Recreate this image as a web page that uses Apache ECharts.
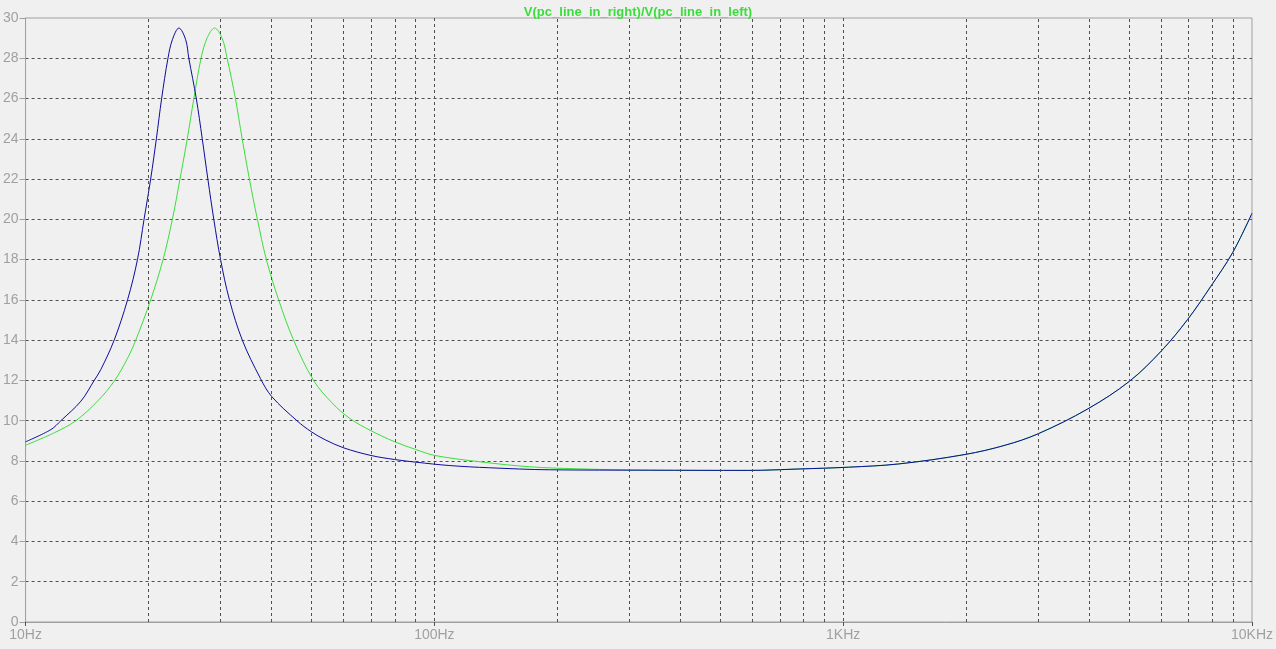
<!DOCTYPE html>
<html>
<head>
<meta charset="utf-8">
<script src="https://cdn.jsdelivr.net/npm/echarts@6/dist/echarts.min.js"></script>
<style>
html,body{margin:0;padding:0;background:#f0f0f0;}
#chart{width:1276px;height:649px;}
</style>
</head>
<body>
<div id="chart"></div>
<script>
const titleText = 'V(pc_line_in_right)/V(pc_line_in_left)';

const freqBlue = [10, 11.54, 12.2, 13.66, 14.72, 15.28, 16.47, 17.76, 18.78, 19.49, 20.23, 20.89, 21.52, 22.30, 22.86, 23.72, 24.64, 25.08, 26.16, 27.05, 27.92, 28.87, 29.99, 31.53, 33.9, 37.53, 40.0, 46.1, 50.0, 54.07, 60.0, 70.0, 80.0, 90.0, 109.1, 136.6, 191.3, 335.5, 588, 779, 1031, 1366, 1986, 2489, 2999, 3970, 5017, 5993, 6962, 7934, 8964, 10000];
const valBlue = [8.95, 9.56, 10.0, 10.97, 12.0, 12.54, 14.0, 16.0, 18.0, 20.0, 22.0, 24.0, 26.0, 28.0, 28.92, 29.5, 28.92, 28.0, 26.0, 24.0, 22.0, 20.0, 18.0, 16.0, 14.0, 12.1, 11.2, 10.0, 9.45, 9.05, 8.65, 8.27, 8.07, 7.94, 7.77, 7.66, 7.56, 7.54, 7.53, 7.6, 7.69, 7.85, 8.32, 8.78, 9.35, 10.59, 11.96, 13.45, 15.03, 16.68, 18.34, 20.3];

const freqGreen = [10, 11.76, 13.28, 15.0, 16.47, 17.76, 18.6, 20.23, 21.69, 22.86, 23.86, 24.86, 25.80, 26.87, 27.82, 28.99, 30.27, 31.12, 32.61, 33.87, 35.28, 36.9, 38.82, 41.6, 45.25, 50.63, 56.15, 62.2, 70.0, 80.0, 90.0, 100.3, 131.5, 171.0, 222.3, 335.5, 588, 779, 1031, 1366, 1986, 2489, 2999, 3970, 5017, 5993, 6962, 7934, 8964, 10000];
const valGreen = [8.78, 9.4, 10.0, 10.97, 11.96, 13.1, 14.0, 16.0, 18.0, 20.0, 22.0, 24.0, 26.0, 28.0, 29.02, 29.5, 28.98, 28.0, 26.0, 24.0, 22.0, 20.0, 18.0, 16.0, 14.0, 12.0, 10.89, 10.1, 9.5, 8.95, 8.57, 8.27, 7.94, 7.71, 7.61, 7.54, 7.53, 7.6, 7.69, 7.85, 8.32, 8.78, 9.35, 10.59, 11.96, 13.45, 15.03, 16.68, 18.34, 20.3];

const decadeLabels = {10: '10Hz', 100: '100Hz', 1000: '1KHz', 10000: '10KHz'};
const minorGridFreqs = [20, 30, 40, 50, 60, 70, 80, 90, 200, 300, 400, 500, 600, 700, 800, 900, 2000, 3000, 4000, 5000, 6000, 7000, 8000, 9000];

const gridColor = '#505050';
const frameColor = '#a0a0a0';
const labelColor = '#a0a0a0';

const chart = echarts.init(document.getElementById('chart'), null, {renderer: 'canvas'});

const option = {
  backgroundColor: '#f0f0f0',
  animation: false,
  title: {
    text: titleText,
    left: 'center',
    top: 1,
    textStyle: {color: '#3ade3a', fontSize: 13, fontWeight: 'bold', fontFamily: 'Liberation Sans'}
  },
  grid: {
    left: 24, top: 18, right: 22, bottom: 27,
    show: true, borderColor: frameColor, borderWidth: 1, backgroundColor: 'transparent'
  },
  xAxis: {
    type: 'log',
    logBase: 10,
    min: 10,
    max: 10000,
    axisLine: {show: true, lineStyle: {color: frameColor, width: 1}},
    axisTick: {show: true, length: 4, lineStyle: {color: gridColor}},
    axisLabel: {
      color: labelColor, fontSize: 14, fontFamily: 'Liberation Sans', margin: 6,
      formatter: v => decadeLabels[Math.round(v)] || ''
    },
    splitLine: {show: true, showMinLine: false, showMaxLine: false, lineStyle: {color: gridColor, type: [3, 3], width: 1}}
  },
  yAxis: {
    type: 'value',
    min: 0,
    max: 30,
    interval: 2,
    axisLine: {show: true, lineStyle: {color: frameColor, width: 1}},
    axisTick: {show: true, length: 6, lineStyle: {color: frameColor}},
    axisLabel: {color: labelColor, fontSize: 14, fontFamily: 'Liberation Sans', margin: 7},
    splitLine: {show: true, showMinLine: false, showMaxLine: false, lineStyle: {color: gridColor, type: [3, 3], width: 1}}
  },
  series: [
    {
      name: 'green',
      type: 'line',
      data: freqGreen.map((f, i) => [f, valGreen[i]]),
      showSymbol: false,
      smooth: 0.35,
      lineStyle: {color: '#3ade3a', width: 1},
      itemStyle: {color: '#3ade3a'},
      z: 3,
      markLine: {
        silent: true,
        symbol: ['none', 'none'],
        label: {show: false},
        animation: false,
        lineStyle: {color: gridColor, type: [3, 3], width: 1},
        emphasis: {disabled: true},
        data: minorGridFreqs.map(f => ({xAxis: f}))
      }
    },
    {
      name: 'blue',
      type: 'line',
      data: freqBlue.map((f, i) => [f, valBlue[i]]),
      showSymbol: false,
      smooth: 0.35,
      lineStyle: {color: '#0c0c9c', width: 1},
      itemStyle: {color: '#0c0c9c'},
      z: 4
    }
  ]
};
chart.setOption(option);
</script>
</body>
</html>
